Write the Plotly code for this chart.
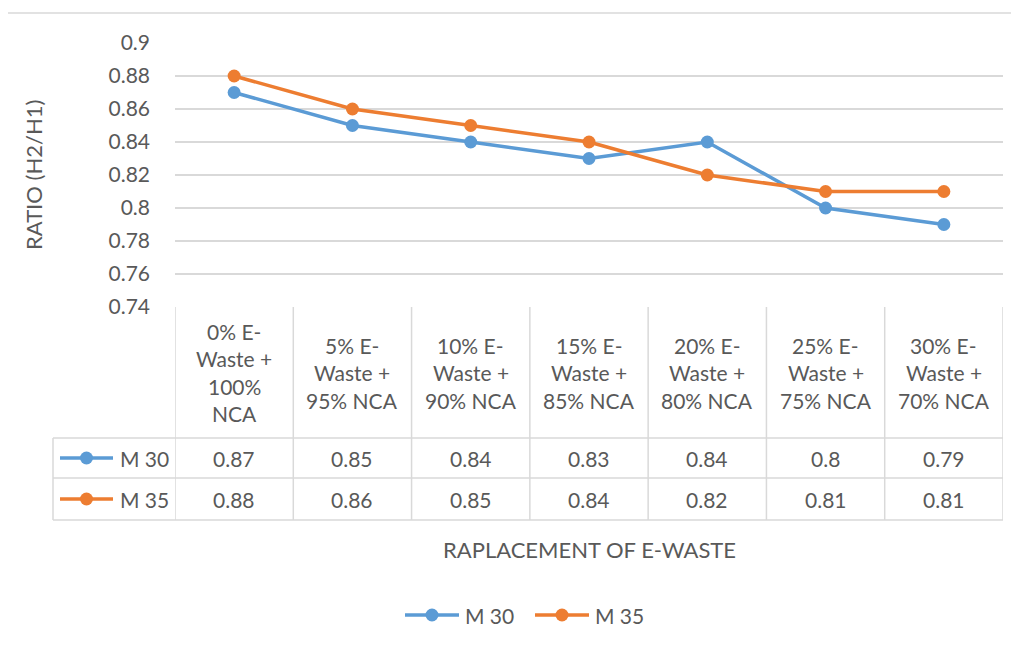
import plotly.graph_objects as go

categories = ["0% E-<br>Waste +<br>100%<br>NCA", "5% E-<br>Waste +<br>95% NCA",
              "10% E-<br>Waste +<br>90% NCA", "15% E-<br>Waste +<br>85% NCA",
              "20% E-<br>Waste +<br>80% NCA", "25% E-<br>Waste +<br>75% NCA",
              "30% E-<br>Waste +<br>70% NCA"]
m30 = [0.87, 0.85, 0.84, 0.83, 0.84, 0.80, 0.79]
m35 = [0.88, 0.86, 0.85, 0.84, 0.82, 0.81, 0.81]
series_names = ["M 30", "M 35"]
series_values = [m30, m35]
colors = ["#5B9BD5", "#ED7D31"]

OFF = 8  # page body margin
W, H = 1019 - OFF, 646 - OFF
L, R, T, B = 175, 1003, 43, 307  # target screen pixels of plot area
FONT = "Lato"
TXT = "#595959"
GRID = "#D9D9D9"
FS = 21

def px(x):
    return (x - L) / (R - L)

def py(y):
    return (B - y) / (B - T)

fig = go.Figure()
xs = list(range(len(categories)))
for name, vals, c in zip(series_names, series_values, colors):
    fig.add_trace(go.Scatter(x=xs, y=vals, name=name, mode="lines+markers",
                             line=dict(color=c, width=3.5),
                             marker=dict(color=c, size=13), showlegend=False))

shapes = []
annotations = []
n = len(categories)
header_top, header_bot = 307, 438
row_edges = [438, 478, 520]
for i in range(n + 1):
    shapes.append(dict(type="line", xref="x", yref="paper", x0=i - 0.5, x1=i - 0.5,
                       y0=py(header_top), y1=py(520), line=dict(color=GRID, width=1.5)))
for ry in row_edges:
    shapes.append(dict(type="line", xref="paper", yref="paper", x0=px(53), x1=1,
                       y0=py(ry), y1=py(ry), line=dict(color=GRID, width=1.5)))
shapes.append(dict(type="line", xref="paper", yref="paper", x0=px(53), x1=px(53),
                   y0=py(438), y1=py(520), line=dict(color=GRID, width=1.5)))
# outer chart border
shapes.append(dict(type="line", xref="paper", yref="paper", x0=px(7), x1=px(7),
                   y0=py(13), y1=py(660), line=dict(color=GRID, width=1.5)))
shapes.append(dict(type="line", xref="paper", yref="paper", x0=px(7), x1=px(1019),
                   y0=py(13), y1=py(13), line=dict(color=GRID, width=1.5)))

line_h = 27.5
for i, cat in enumerate(categories):
    lines = cat.split("<br>")
    mid = (header_top + header_bot) / 2
    start = mid - line_h * (len(lines) - 1) / 2
    for k, ln in enumerate(lines):
        annotations.append(dict(x=i, xref="x", y=py(start + k * line_h), yref="paper",
                                text=ln, showarrow=False, xanchor="center", yanchor="middle",
                                font=dict(family=FONT, size=FS, color=TXT)))

def key(x0, x1, cy, c):
    cx = (x0 + x1) / 2
    shapes.append(dict(type="line", xref="paper", yref="paper", x0=px(x0), x1=px(x1),
                       y0=py(cy), y1=py(cy), line=dict(color=c, width=3.5)))
    shapes.append(dict(type="circle", xref="paper", yref="paper", x0=px(cx - 6.5),
                       x1=px(cx + 6.5), y0=py(cy - 6.5), y1=py(cy + 6.5),
                       fillcolor=c, line=dict(color=c, width=0)))

for r, (name, vals, c) in enumerate(zip(series_names, series_values, colors)):
    cy = (row_edges[r] + row_edges[r + 1]) / 2
    for i, v in enumerate(vals):
        annotations.append(dict(x=i, xref="x", y=py(cy), yref="paper", text=f"{v:g}",
                                showarrow=False, xanchor="center", yanchor="middle",
                                font=dict(family=FONT, size=FS, color=TXT)))
    key(60, 113, cy, c)
    annotations.append(dict(x=px(118), xref="paper", y=py(cy), yref="paper", text=name,
                            showarrow=False, xanchor="left", yanchor="middle",
                            font=dict(family=FONT, size=FS, color=TXT)))

# bottom legend
leg_x = [405, 535]
for name, c, lx in zip(series_names, colors, leg_x):
    key(lx, lx + 54, 615, c)
    annotations.append(dict(x=px(lx + 58), xref="paper", y=py(615), yref="paper", text=name,
                            showarrow=False, xanchor="left", yanchor="middle",
                            font=dict(family=FONT, size=FS, color=TXT)))

annotations.append(dict(x=px(33), xref="paper", y=py(175), yref="paper", text="RATIO (H2/H1)",
                        showarrow=False, textangle=-90, xanchor="center", yanchor="middle",
                        font=dict(family=FONT, size=22, color=TXT)))
annotations.append(dict(x=px(589), xref="paper", y=py(549), yref="paper",
                        text="RAPLACEMENT OF E-WASTE", showarrow=False,
                        xanchor="center", yanchor="middle",
                        font=dict(family=FONT, size=22, color=TXT)))

fig.update_layout(
    width=W, height=H, autosize=False,
    margin=dict(l=L - OFF, r=W - (R - OFF), t=T - OFF, b=H - (B - OFF), pad=0),
    plot_bgcolor="white", paper_bgcolor="white",
    font=dict(family=FONT, size=FS, color=TXT),
    showlegend=False,
    xaxis=dict(range=[-0.5, n - 0.5], showticklabels=False, showgrid=False,
               zeroline=False, showline=False, fixedrange=True),
    yaxis=dict(range=[0.74, 0.9], dtick=0.02, tick0=0.74, showgrid=True, gridcolor=GRID,
               gridwidth=1.5, zeroline=False, showline=False, ticks="",
               ticklabelstandoff=24, tickfont=dict(family=FONT, size=FS, color=TXT),
               fixedrange=True),
    shapes=shapes, annotations=annotations,
)

fig.write_html("out.html")
